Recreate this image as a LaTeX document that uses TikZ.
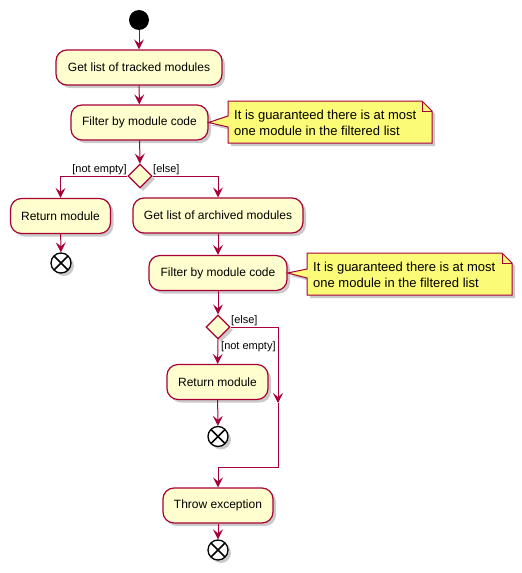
\documentclass[tikz,border=0pt]{standalone}
\usepackage{fontspec}
\setmainfont{Liberation Sans}
\usetikzlibrary{shapes.geometric,arrows.meta,shadows}
\definecolor{pumlred}{HTML}{A80036}
\definecolor{pumlfill}{HTML}{FEFECE}
\definecolor{notefill}{HTML}{FBFB77}
\tikzset{
  shad/.style={drop shadow={shadow xshift=3pt,shadow yshift=-3pt,opacity=0.35,fill=black!60}},
  actbox/.style={draw=pumlred,fill=pumlfill,line width=1.2pt,rounded corners=11pt,
     minimum height=35pt,inner sep=0pt,font=\fontsize{12}{14}\selectfont,shad},
  decis/.style={diamond,draw=pumlred,fill=pumlfill,line width=1.2pt,minimum width=24pt,
     minimum height=24pt,inner sep=0pt,shad},
  startdot/.style={circle,fill=black,minimum size=20pt,inner sep=0pt},
  stopdot/.style={circle,draw=black,fill=white,line width=1.3pt,minimum size=20pt,inner sep=0pt,shad,
     path picture={\draw[line width=1.6pt,black]
        ([xshift=-7pt,yshift=7pt]path picture bounding box.center) -- ([xshift=7pt,yshift=-7pt]path picture bounding box.center)
        ([xshift=-7pt,yshift=-7pt]path picture bounding box.center) -- ([xshift=7pt,yshift=7pt]path picture bounding box.center);}},
  flow/.style={draw=pumlred,line width=1pt,-{Stealth[length=10pt,width=10pt,inset=4pt]}},
  lineonly/.style={draw=pumlred,line width=1pt},
  guard/.style={font=\fontsize{11}{13}\selectfont,inner sep=0pt},
  notebody/.style={draw=pumlred,fill=notefill,line width=1pt,shad},
  notetext/.style={font=\fontsize{13}{16}\selectfont,align=left,inner sep=0pt,anchor=west},
}
\begin{document}
\begin{tikzpicture}[x=1pt,y=-1pt]
\useasboundingbox (0,0) rectangle (522,573);

% nodes
\node[startdot] (start) at (139,20) {};
\node[actbox,minimum width=166pt] (tracked) at (139,67.5) {Get list of tracked modules};
\node[actbox,minimum width=137pt] (filter1) at (139.5,122.5) {Filter by module code};
\node[decis] (d1) at (140,176) {};
\node[actbox,minimum width=100pt] (ret1) at (60.5,216) {Return module};
\node[stopdot] (end1) at (61,263) {};
\node[actbox,minimum width=170pt] (archived) at (218,215.5) {Get list of archived modules};
\node[actbox,minimum width=138pt] (filter2) at (218,273) {Filter by module code};
\node[decis] (d2) at (218,327) {};
\node[actbox,minimum width=101pt] (ret2) at (217.5,382) {Return module};
\node[stopdot] (end2) at (218,436.5) {};
\node[actbox,minimum width=110pt] (throw) at (218,505.5) {Throw exception};
\node[stopdot] (end3) at (218,550) {};

% notes
\path[notebody] (228,101) -- (422,101) -- (432,111) -- (432,143) -- (228,143)
   -- (228,127) -- (filter1.east) -- (228,116) -- cycle;
\draw[pumlred,line width=1pt] (422,101) -- (422,111) -- (432,111);
\node[notetext] (note1) at (234,122.5) {It is guaranteed there is at most\\one module in the filtered list};

\path[notebody] (307,253) -- (502,253) -- (512,263) -- (512,295) -- (307,295)
   -- (307,278) -- (filter2.east) -- (307,269) -- cycle;
\draw[pumlred,line width=1pt] (502,253) -- (502,263) -- (512,263);
\node[notetext] (note2) at (313,274.5) {It is guaranteed there is at most\\one module in the filtered list};

% connectors
\draw[flow] (start) -- (tracked);
\draw[flow] (tracked) -- (filter1);
\draw[flow] (filter1) -- (d1);
\draw[flow] (d1.west) -| (ret1.north);
\draw[flow] (d1.east) -| (archived.north);
\draw[flow] (ret1) -- (end1);
\draw[flow] (archived) -- (filter2);
\draw[flow] (filter2) -- (d2);
\draw[flow] (d2) -- (ret2);
\draw[flow] (ret2) -- (end2);
\coordinate (r1) at (278,327);
\coordinate (r2) at (278,403);
\coordinate (r3) at (278,467);
\coordinate (r4) at (218,467);
\draw[flow] (d2.east) -- (r1) -- (r2);
\draw[lineonly] (r2) -- (r3) -- (r4);
\draw[flow] (r4) -- (throw.north);
\draw[flow] (throw) -- (end3);

% guards
\node[guard,anchor=south east] (g1) at (127,175) {[not empty]};
\node[guard,anchor=south west] (g2) at (153,175) {[else]};
\node[guard,anchor=south west] (g3) at (231,326) {[else]};
\node[guard,anchor=west] (g4) at (221,347) {[not empty]};
\end{tikzpicture}
\end{document}
